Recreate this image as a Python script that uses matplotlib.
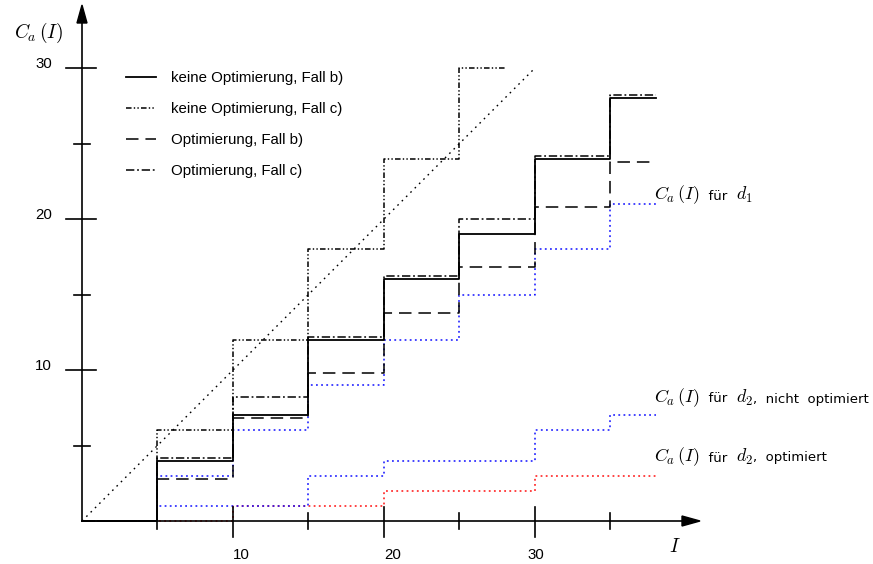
import matplotlib
matplotlib.use("Agg")
import matplotlib.pyplot as plt
from matplotlib.lines import Line2D
from matplotlib.patches import Polygon
from matplotlib.offsetbox import TextArea, HPacker, AnnotationBbox

plt.rcParams["mathtext.fontset"] = "cm"
plt.rcParams["lines.scale_dashes"] = False

# Step boundaries along I
I_steps = [0, 5, 10, 15, 20, 25, 30, 35, 38]
I_steps_c = [0, 5, 10, 15, 20, 25, 28]

# Cost values C_a(I) on each interval
keine_opt_b = [0, 4, 7, 12, 16, 19, 24, 28]
keine_opt_c = [0, 6, 12, 18, 24, 30]
opt_b = [0, 2.8, 6.8, 9.8, 13.8, 16.8, 20.8, 23.8]
opt_c = [0, 4.2, 8.2, 12.2, 16.2, 20.0, 24.2, 28.2]
ca_d1 = [0, 3, 6, 9, 12, 15, 18, 21]
ca_d2_nicht = [0, 1, 1, 3, 4, 4, 6, 7]
ca_d2_opt = [0, 0, 1, 1, 2, 2, 3, 3]

diag_I = [0, 30]
diag_C = [0, 30]

legend_labels = ["keine Optimierung, Fall b)", "keine Optimierung, Fall c)",
                 "Optimierung, Fall b)", "Optimierung, Fall c)"]
x_ticks_major = [10, 20, 30]
x_ticks_minor = [5, 15, 25, 35]
y_ticks_major = [10, 20, 30]
y_ticks_minor = [5, 15, 25]

PX = 15.1          # pixels per unit
X0, Y0 = 82, 521   # origin in pixels
W, H = 873, 564

fig = plt.figure(figsize=(W / 100, H / 100), dpi=100)
ax = fig.add_axes([0, 0, 1, 1])
ax.set_xlim(-X0 / PX, (W - X0) / PX)
ax.set_ylim((Y0 - H) / PX, Y0 / PX)
ax.axis("off")


def step(ax, xs, ys, **kw):
    return ax.step(xs, list(ys) + [ys[-1]], where="post", **kw)


dot_style = (0, (1.3, 2.4))
step(ax, I_steps, ca_d2_opt, color="#ff1010", lw=1.1, ls=dot_style, zorder=2)
step(ax, I_steps, ca_d2_nicht, color="#1010ff", lw=1.1, ls=dot_style, zorder=2)
step(ax, I_steps, ca_d1, color="#1010ff", lw=1.1, ls=dot_style, zorder=2)
ax.plot(diag_I, diag_C, color="black", lw=1.0, ls=(0, (1.2, 3.2)), zorder=3)

styles = [
    dict(ls="-", lw=1.3),
    dict(ls=(0, (4, 1.6, 1, 1.6, 1, 1.6)), lw=1.1),
    dict(ls=(0, (9, 5)), lw=1.1),
    dict(ls=(0, (6, 2, 1.3, 2)), lw=1.1),
]
series = [(I_steps, keine_opt_b), (I_steps_c, keine_opt_c),
          (I_steps, opt_b), (I_steps, opt_c)]
handles = []
for (xs, ys), st, lab in zip(series, styles, legend_labels):
    step(ax, xs, ys, color="black", zorder=4, **st)
    handles.append(Line2D([], [], color="black", **st, label=lab))

leg = ax.legend(handles=handles, loc="upper left",
                bbox_to_anchor=(126 / W, 1 - 71 / H), frameon=False,
                prop={"family": "Liberation Sans", "size": 10.8},
                handlelength=2.0, handletextpad=1.0, labelspacing=1.13,
                borderpad=0, borderaxespad=0)

# Axes with arrow heads
ax_color = "black"
x_end = (700 - X0) / PX
y_end = (Y0 - 5) / PX
ax.plot([0, x_end - 1.0], [0, 0], color=ax_color, lw=1.2, zorder=5)
ax.plot([0, 0], [0, y_end - 1.0], color=ax_color, lw=1.2, zorder=5)
hl, hw = 18 / PX, 5 / PX
ax.add_patch(Polygon([[x_end, 0], [x_end - hl, hw], [x_end - hl, -hw]],
                     closed=True, color=ax_color, zorder=5))
ax.add_patch(Polygon([[0, y_end], [hw, y_end - hl], [-hw, y_end - hl]],
                     closed=True, color=ax_color, zorder=5))

# Tick marks
for t in x_ticks_major:
    ax.plot([t, t], [14 / PX, -16 / PX], color=ax_color, lw=1.2, zorder=5)
for t in x_ticks_minor:
    ax.plot([t, t], [8 / PX, -8 / PX], color=ax_color, lw=1.2, zorder=5)
for t in y_ticks_major:
    ax.plot([-16 / PX, 14 / PX], [t, t], color=ax_color, lw=1.2, zorder=5)
for t in y_ticks_minor:
    ax.plot([-8 / PX, 8 / PX], [t, t], color=ax_color, lw=1.2, zorder=5)

tick_font = dict(family="Liberation Sans", size=10.8)
x_label_offsets = [0.55, 0.55, 0.05]
for t, off in zip(x_ticks_major, x_label_offsets):
    ax.text(t + off, -34 / PX, str(t), ha="center", va="center", **tick_font)
for t in y_ticks_major:
    ax.text(-30 / PX, t + 4 / PX, str(t), ha="right", va="center", **tick_font)

# Axis titles
ax.text((38 - X0) / PX, (Y0 - 33) / PX, r"$C_a\,(I)$", ha="center",
        va="center", fontsize=14)
ax.text((675 - X0) / PX, (Y0 - 546) / PX, r"$I$", ha="center",
        va="center", fontsize=14)


# Curve annotations: math parts in Computer Modern, words in sans
def mixed_label(parts, xy):
    boxes = []
    for txt, is_math in parts:
        props = dict(size=13) if is_math else dict(size=9.5,
                                                     family="DejaVu Sans")
        boxes.append(TextArea(txt, textprops=props))
    pack = HPacker(children=boxes, pad=0, sep=0, align="baseline")
    ab = AnnotationBbox(pack, xy, xycoords="data", box_alignment=(0, 0.5),
                        frameon=False, pad=0)
    ax.add_artist(ab)


mixed_label([(r"$C_a\,(I)$", True), ("  für  ", False), (r"$d_1$", True)],
            (37.9, (Y0 - 195) / PX))
mixed_label([(r"$C_a\,(I)$", True), ("  für  ", False), (r"$d_2$", True),
             (",  nicht  optimiert", False)], (37.9, (Y0 - 398) / PX))
mixed_label([(r"$C_a\,(I)$", True), ("  für  ", False), (r"$d_2$", True),
             (",  optimiert", False)], (37.9, (Y0 - 457) / PX))

fig.savefig("out.png", dpi=100)
